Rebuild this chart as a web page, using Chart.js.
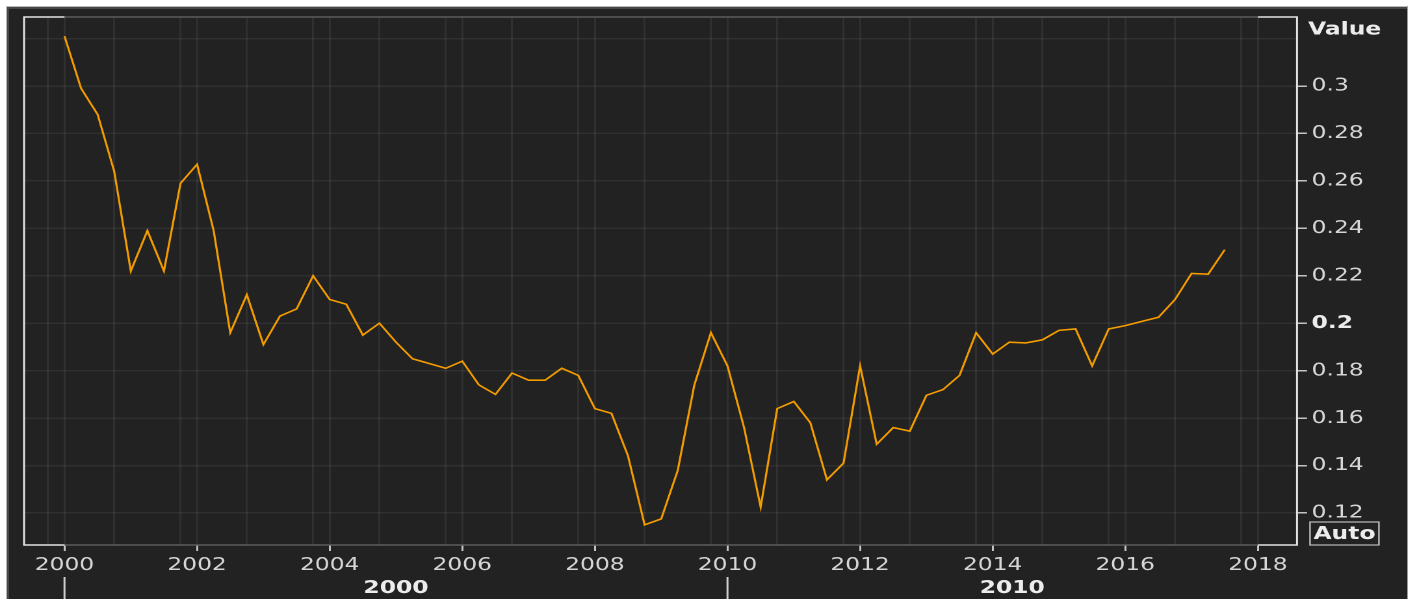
<!DOCTYPE html>
<html>
  <head>
    <script src="https://cdn.jsdelivr.net/npm/chart.js"></script>
    <style>
      body {
        margin: 0;
        width: 1413px;
        height: 599px;
        overflow: hidden;
        background: #ffffff;
        font-family: "DejaVu Sans", sans-serif;
      }
      #panel {
        position: absolute;
        left: 6px;
        top: 6px;
        width: 1400px;
        height: 600px;
        background: #222222;
        border-top: 1px solid #b8b8b8;
        border-left: 1px solid #b8b8b8;
        border-right: 1px solid #9a9a9a;
        box-shadow: inset 2px 2px 0 #474747;
      }
      /* the reference is stretched sideways, so the chart is drawn narrow and widened */
      #wrap {
        position: absolute;
        left: 0;
        top: 0;
        width: 1087px;
        height: 599px;
        transform: scaleX(1.3);
        transform-origin: 0 0;
      }
    </style>
  </head>
  <body>
    <div id="panel"></div>
    <div id="wrap"><canvas id="valueChart"></canvas></div>

    <script>
      // quarterly values, first quarter of 2000 to third quarter of 2017
      var firstYear = 2000;
      var values = [
        0.321, 0.299, 0.288, 0.264,
        0.222, 0.239, 0.222, 0.259,
        0.267, 0.239, 0.196, 0.212,
        0.191, 0.203, 0.206, 0.220,
        0.210, 0.208, 0.195, 0.200,
        0.192, 0.185, 0.183, 0.181,
        0.184, 0.174, 0.170, 0.179,
        0.176, 0.176, 0.181, 0.178,
        0.164, 0.162, 0.144, 0.115,
        0.1175, 0.138, 0.174, 0.196,
        0.182, 0.156, 0.1225, 0.164,
        0.167, 0.158, 0.134, 0.141,
        0.182, 0.149, 0.156, 0.1545,
        0.1696, 0.172, 0.178, 0.196,
        0.187, 0.192, 0.1917, 0.193,
        0.197, 0.1976, 0.182, 0.1976,
        0.199, 0.2008, 0.2025, 0.210,
        0.221, 0.2207, 0.231
      ];

      var xLabelYears = [2000, 2002, 2004, 2006, 2008, 2010, 2012, 2014, 2016, 2018];
      var xMinorGrid = [1999.75, 2000.75, 2001.75, 2002.75, 2003.75, 2004.75, 2005.75, 2006.75, 2007.75,
                        2008.75, 2009.75, 2010.75, 2011.75, 2012.75, 2013.75, 2014.75, 2015.75, 2016.75, 2017.75];
      var decades = [2000, 2010];
      var yTickValues = [0.12, 0.14, 0.16, 0.18, 0.2, 0.22, 0.24, 0.26, 0.28, 0.3, 0.32];
      var yBoldTick = 0.2;

      var FONT = '"DejaVu Sans", sans-serif';
      var TEXT = '#d6d6d6';
      var GRID = 'rgba(255,255,255,0.065)';

      var points = values.map(function(v, i) {
        return { x: firstYear + i / 4, y: v };
      });

      var xGridTicks = xLabelYears.concat(xMinorGrid).sort(function(a, b) { return a - b; });

      // frame, second row of the time axis, "Value" and "Auto"
      var extras = {
        id: 'extras',
        afterDraw: function(chart) {
          var ctx = chart.ctx;
          var area = chart.chartArea;
          var xs = chart.scales.x;
          var x0 = xs.getPixelForValue(xLabelYears[0]);
          var x1 = xs.getPixelForValue(xLabelYears[xLabelYears.length - 1]);
          ctx.save();
          ctx.lineWidth = 1.5;
          ctx.strokeStyle = '#5c5c5c';
          ctx.beginPath();
          ctx.moveTo(x0, area.top); ctx.lineTo(x1, area.top);
          ctx.moveTo(x0, area.bottom); ctx.lineTo(x1, area.bottom);
          ctx.stroke();
          ctx.strokeStyle = '#e4e4e4';
          ctx.beginPath();
          ctx.moveTo(x0, area.top); ctx.lineTo(area.left, area.top);
          ctx.lineTo(area.left, area.bottom); ctx.lineTo(x0, area.bottom);
          ctx.moveTo(x1, area.top); ctx.lineTo(area.right, area.top);
          ctx.lineTo(area.right, area.bottom); ctx.lineTo(x1, area.bottom);
          ctx.stroke();

          // decade row
          ctx.strokeStyle = '#cfcfcf';
          ctx.fillStyle = '#ececec';
          ctx.font = 'bold 18px ' + FONT;
          ctx.textAlign = 'center';
          ctx.textBaseline = 'middle';
          decades.forEach(function(d, i) {
            var start = Math.max(d, xs.min);
            var end = i < decades.length - 1 ? decades[i + 1] : xs.max;
            var px = xs.getPixelForValue(d);
            ctx.beginPath();
            ctx.moveTo(px, area.bottom + 32);
            ctx.lineTo(px, chart.height);
            ctx.stroke();
            ctx.fillText(String(d), xs.getPixelForValue((start + end) / 2), area.bottom + 43.5);
          });

          // axis name and the auto box
          ctx.textAlign = 'left';
          ctx.fillText('Value', area.right + 8.5, 30);
          ctx.strokeStyle = '#bdbdbd';
          ctx.lineWidth = 1.2;
          ctx.strokeRect(area.right + 10, area.bottom - 23, 53, 23);
          ctx.textAlign = 'center';
          ctx.fillText('Auto', area.right + 36.5, area.bottom - 10.5);
          ctx.restore();
        }
      };

      new Chart(document.getElementById('valueChart'), {
        type: 'line',
        data: {
          datasets: [{
            label: 'Value',
            data: points,
            borderColor: '#f39c00',
            borderWidth: 1.6,
            pointRadius: 0,
            tension: 0,
            fill: false
          }]
        },
        options: {
          responsive: true,
          maintainAspectRatio: false,
          animation: false,
          devicePixelRatio: 2,
          layout: { padding: { left: 18.5, top: 17, right: 0, bottom: 0 } },
          plugins: {
            legend: { display: false },
            tooltip: { enabled: false }
          },
          scales: {
            x: {
              type: 'linear',
              position: 'bottom',
              min: 1999.39,
              max: 2018.59,
              afterBuildTicks: function(scale) {
                scale.ticks = xGridTicks.map(function(v) { return { value: v }; });
              },
              afterFit: function(scale) { scale.height = 54; },
              border: { display: false },
              grid: {
                color: GRID,
                lineWidth: 1.5,
                drawTicks: true,
                tickLength: 6,
                tickColor: function(c) {
                  return c.tick && xLabelYears.indexOf(c.tick.value) >= 0 ? '#c4c4c4' : 'rgba(0,0,0,0)';
                }
              },
              ticks: {
                autoSkip: false,
                maxRotation: 0,
                minRotation: 0,
                padding: 3.5,
                color: TEXT,
                font: { family: FONT, size: 18 },
                callback: function(v) {
                  return xLabelYears.indexOf(v) >= 0 ? String(v) : '';
                }
              }
            },
            y: {
              type: 'linear',
              position: 'right',
              min: 0.1065,
              max: 0.3291,
              afterBuildTicks: function(scale) {
                scale.ticks = yTickValues.map(function(v) { return { value: v }; });
              },
              afterFit: function(scale) { scale.width = 89.3; },
              border: { display: false },
              grid: {
                color: GRID,
                lineWidth: 1.5,
                drawTicks: true,
                tickLength: 7.7,
                tickColor: function(c) {
                  return c.tick && c.tick.value < 0.31 ? '#c4c4c4' : 'rgba(0,0,0,0)';
                }
              },
              ticks: {
                padding: 3.5,
                color: function(c) {
                  return c.tick && c.tick.value === yBoldTick ? '#ececec' : TEXT;
                },
                font: function(c) {
                  return {
                    family: FONT,
                    size: 18,
                    weight: c.tick && c.tick.value === yBoldTick ? 'bold' : 'normal'
                  };
                },
                callback: function(v) {
                  return v < 0.31 ? String(v) : '';
                }
              }
            }
          }
        },
        plugins: [extras]
      });
    </script>
  </body>
</html>
